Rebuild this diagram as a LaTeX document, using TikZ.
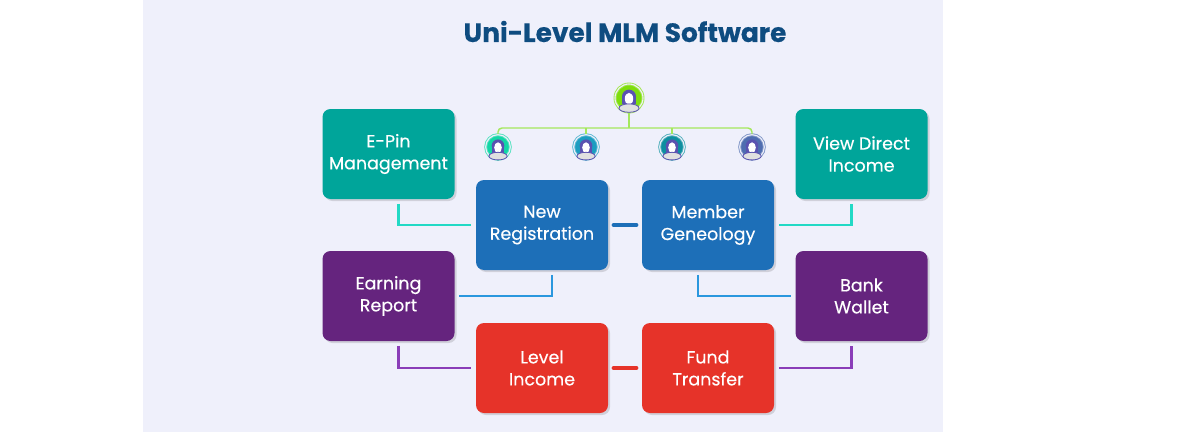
\documentclass[tikz,border=0pt]{standalone}
\usepackage{fontspec}
\setmainfont{Poppins}[FakeBold=0.35]
\usetikzlibrary{calc,positioning,shadows}
\definecolor{panelbg}{HTML}{EFF0FB}
\definecolor{titleblue}{HTML}{0E4C80}
\definecolor{tealbox}{HTML}{00A59A}
\definecolor{bluebox}{HTML}{1D6FB8}
\definecolor{purplebox}{HTML}{65247E}
\definecolor{redbox}{HTML}{E63329}
\definecolor{tealline}{HTML}{22D9C5}
\definecolor{blueline}{HTML}{2A97DE}
\definecolor{purpleline}{HTML}{8A3DB8}
\definecolor{orgline}{HTML}{A4E85C}
\definecolor{hairblue}{HTML}{5A52B0}
\definecolor{rootgreen}{HTML}{7EDD0C}
\definecolor{kidgreen}{HTML}{12D6A6}
\definecolor{kidcyan}{HTML}{1C9DC0}
\definecolor{kidteal}{HTML}{0E8FA0}
\definecolor{kidslate}{HTML}{4F6DB0}
\tikzset{
	card/.style={rectangle, rounded corners=6pt, minimum width=99pt, minimum height=67.5pt,
		inner sep=0pt, align=center, text=white, font=\fontsize{13.1}{16.5}\selectfont,
		drop shadow={shadow xshift=1.5pt, shadow yshift=-1.5pt, fill=black, opacity=0.13}},
	link/.style={line width=1.9pt, shorten <=3.5pt, shorten >=3.5pt},
	bridge/.style={line width=3pt, line cap=round, shorten <=4pt, shorten >=4pt},
	orgwire/.style={orgline, line width=1.1pt},
	avatar/.style={circle, inner sep=0pt, fill=#1, draw=#1!70!white, double=panelbg,
		double distance=0.8pt, line width=0.7pt},
	pics/person/.style={code={
		\fill[hairblue] (0,0.1) circle (0.5);
		\fill[hairblue] (-0.5,0.1) rectangle (0.5,-0.45);
		\fill[white] (0,-0.05) ellipse (0.3 and 0.42);
		\draw[hairblue, fill=black!12, line width=0.6pt] (0,-0.72) ellipse (0.72 and 0.3);
	}}
}
\begin{document}
\begin{tikzpicture}[x=0.75pt,y=-0.75pt]
	\useasboundingbox (0,0) rectangle (1189,432);
	\fill[panelbg] (143,0) rectangle (943,432);

	\node[text=titleblue, font=\bfseries\fontsize{19.8}{24}\selectfont] (title) at (625,31.5) {Uni-Level MLM Software};

	% boxes
	\node[card, fill=tealbox] (epin) at (388.5,154) {E-Pin\\Management};
	\node[card, fill=tealbox] (viewdirect) at (861.5,154) {View Direct\\Income};
	\node[card, fill=bluebox] (newreg) at (542,225) {New\\Registration};
	\node[card, fill=bluebox] (member) at (708,225) {Member\\Geneology};
	\node[card, fill=purplebox] (earning) at (388.5,296) {Earning\\Report};
	\node[card, fill=purplebox] (bank) at (861.5,296) {Bank\\Wallet};
	\node[card, fill=redbox] (level) at (542,368) {Level\\Income};
	\node[card, fill=redbox] (fund) at (708,368) {Fund\\Transfer};

	% links
	\draw[link, tealline] ([xshift=7.5pt]epin.south) |- (newreg.west);
	\draw[link, tealline] (member.east) -| ([xshift=-7.5pt]viewdirect.south);
	\draw[link, blueline] ([xshift=7.5pt]newreg.south) |- (earning.east);
	\draw[link, blueline] ([xshift=-7.5pt]member.south) |- (bank.west);
	\draw[link, purpleline] ([xshift=7.5pt]earning.south) |- (level.west);
	\draw[link, purpleline] (fund.east) -| ([xshift=-7.5pt]bank.south);
	\draw[bridge, bluebox] (newreg.east) -- (member.west);
	\draw[bridge, redbox] (level.east) -- (fund.west);

	% tree of members
	\node[avatar=rootgreen, minimum size=21pt] (root) at (629,98) {};
	\node[avatar=kidgreen, minimum size=18.5pt] (kida) at (498,147) {};
	\node[avatar=kidcyan, minimum size=18.5pt] (kidb) at (586,147) {};
	\node[avatar=kidteal, minimum size=18.5pt] (kidc) at (672,147) {};
	\node[avatar=kidslate, minimum size=18.5pt] (kidd) at (752,147) {};
	\coordinate (hub) at (629,128);
	\draw[orgwire, rounded corners=3pt] (kida.north) |- (hub) -| (kidd.north);
	\draw[orgwire] (root.south) -- (hub);
	\draw[orgwire] (kidb.north) -- (kidb.north |- hub);
	\draw[orgwire] (kidc.north) -- (kidc.north |- hub);

	\pic[x=10.5pt,y=10.5pt] at (root) {person};
	\foreach \kid in {kida,kidb,kidc,kidd}
		\pic[x=9.5pt,y=9.5pt] at (\kid) {person};
\end{tikzpicture}
\end{document}
